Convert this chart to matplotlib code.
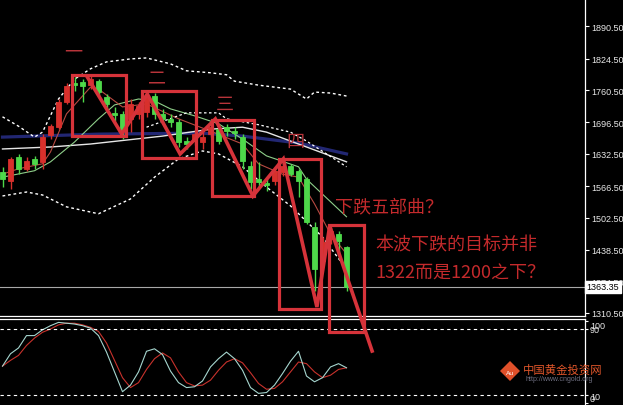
import matplotlib
matplotlib.use('Agg')
import matplotlib.pyplot as plt
from matplotlib.patches import Rectangle, Polygon

plt.rcParams['font.family'] = ['Noto Sans CJK SC', 'DejaVu Sans']

# ---- candles (oldest first) ----
opens = [1595.5, 1577.3, 1625.8, 1601.5, 1621.7, 1615.7, 1670.2, 1686.4, 1736.9, 1775.3,
         1777.4, 1771.3, 1779.4, 1747.0, 1714.7, 1712.7, 1702.6, 1712.7, 1716.7, 1749.1,
         1712.7, 1702.6, 1696.5, 1658.1, 1658.1, 1656.1, 1672.3, 1682.4, 1686.4, 1678.3,
         1666.2, 1607.6, 1581.3, 1573.2, 1577.3, 1595.5, 1607.6, 1597.5, 1581.3, 1484.3,
         1415.6, 1460.1, 1470.2, 1443.9]
highs = [1605.6, 1625.8, 1631.8, 1625.8, 1627.8, 1672.3, 1692.5, 1743.0, 1775.3, 1787.5,
         1783.4, 1791.5, 1783.4, 1753.1, 1726.8, 1718.7, 1743.0, 1736.9, 1757.1, 1755.1,
         1722.8, 1712.7, 1702.6, 1666.2, 1678.3, 1676.3, 1698.5, 1692.5, 1692.5, 1686.4,
         1672.3, 1617.7, 1615.7, 1581.3, 1605.6, 1615.7, 1611.6, 1601.5, 1585.4, 1494.4,
         1464.1, 1484.3, 1476.2, 1445.9]
lows = [1565.2, 1561.1, 1591.4, 1597.5, 1601.5, 1601.5, 1662.2, 1682.4, 1732.9, 1759.2,
        1736.9, 1763.2, 1749.1, 1722.8, 1698.5, 1662.2, 1676.3, 1702.6, 1706.6, 1702.6,
        1692.5, 1686.4, 1646.0, 1641.9, 1650.0, 1641.9, 1666.2, 1652.1, 1668.2, 1662.2,
        1601.5, 1561.1, 1565.2, 1557.1, 1569.2, 1587.4, 1587.4, 1544.9, 1490.4, 1355.0,
        1407.5, 1450.0, 1419.6, 1355.0]
closes = [1581.3, 1621.7, 1601.5, 1617.7, 1611.6, 1666.2, 1688.4, 1736.9, 1769.3, 1771.3,
          1769.3, 1783.4, 1757.1, 1732.9, 1710.7, 1678.3, 1732.9, 1728.8, 1749.1, 1712.7,
          1702.6, 1696.5, 1656.1, 1652.1, 1672.3, 1666.2, 1686.4, 1658.1, 1678.3, 1674.3,
          1617.7, 1575.3, 1575.3, 1569.2, 1597.5, 1607.6, 1591.4, 1577.3, 1494.4, 1399.4,
          1454.0, 1476.2, 1456.0, 1363.35]
last_price = 1363.35

# ---- moving averages / bands (bar index, price) ----
ma_fast_x = [0, 2, 5, 6, 8, 11, 12, 15, 18, 22, 26, 30, 32, 35, 37, 39, 41, 43]
ma_fast = [1591, 1602, 1612, 1636, 1713, 1767, 1763, 1727, 1733, 1703, 1678, 1652,
           1612, 1591, 1585, 1531, 1470, 1430]
ma_mid_x = [0, 4, 6, 9, 12, 14, 17, 19, 21, 24, 27, 30, 33, 37, 38, 43]
ma_mid = [1585, 1598, 1616, 1656, 1703, 1731, 1743, 1739, 1723, 1709, 1693, 1662,
          1628, 1606, 1581, 1505]
ma_slow_x = [0, 6, 11, 20, 26, 30, 33, 37, 43]
ma_slow = [1642, 1646, 1652, 1668, 1682, 1686, 1676, 1652, 1616]
ma_long_x = [0, 12, 25, 30, 37, 43]
ma_long = [1666, 1672, 1674, 1668, 1654, 1632]
band_up_x = [0, 2, 4, 5, 7, 9, 11, 13, 16, 18, 21, 23, 26, 28, 29, 32, 36, 38, 39, 41, 43]
band_up = [1707, 1688, 1666, 1676, 1743, 1783, 1804, 1818, 1824, 1826, 1814, 1800,
           1796, 1792, 1779, 1771, 1763, 1743, 1757, 1755, 1749]
band_in_x = [18, 23, 27, 28, 32, 36, 38, 43]
band_in = [1686, 1715, 1715, 1703, 1691, 1676, 1658, 1606]
band_lo_x = [0, 3, 5, 8, 12, 16, 19, 22, 25, 27, 30, 33, 36, 40, 43]
band_lo = [1547, 1555, 1549, 1525, 1511, 1541, 1585, 1622, 1638, 1632, 1606, 1565,
           1527, 1464, 1399]

# ---- stochastic ----
stoch_k = [45, 60, 67, 82, 82, 89, 94, 98, 97, 96, 94, 91, 82, 62, 38, 14, 22, 38, 63, 66,
           59, 39, 25, 19, 20, 27, 44, 54, 62, 54, 40, 19, 12, 13, 22, 36, 51, 63, 33, 26,
           31, 44, 48, 43]
stoch_d = [45, 52, 58, 70, 79, 86, 90, 95, 97, 97, 95, 92, 87, 73, 52, 31, 19, 25, 41, 54,
           61, 55, 38, 25, 21, 22, 28, 40, 50, 54, 49, 37, 24, 17, 18, 26, 38, 50, 48, 38,
           31, 34, 41, 43]

# ---- hand drawn annotations ----
box_left = [8.7, 17.4, 26.2, 34.6, 40.8]
box_right = [15.4, 24.2, 31.4, 39.8, 45.2]
box_top = [1791.5, 1759.2, 1700.6, 1621.7, 1488.3]
box_bottom = [1668.2, 1623.8, 1547.0, 1318.6, 1272.1]
zig_x = [10.6, 14.9, 18.1, 22.2, 26.6, 31.3, 35.1, 39.3, 40.9, 46.2]
zig_y = [1787.5, 1672.3, 1753.1, 1631.8, 1702.6, 1547.0, 1621.7, 1322.6, 1486.3, 1233.6]
wave_labels = ['一', '二', '三', '四']
wave_x = [8.8, 19.3, 27.8, 36.6]
wave_y = [1838, 1787, 1733, 1658]
notes = ['下跌五部曲？', '本波下跌的目标并非', '1322而是1200之下？']
notes_x = [41.6, 46.6, 46.6]
notes_y = [1527, 1450, 1393]

price_ticks = [1310.5, 1374.5, 1438.5, 1502.5, 1566.5, 1632.5, 1696.5, 1760.5, 1824.5, 1890.5]

W, H = 623, 406
fig = plt.figure(figsize=(W / 100, H / 100), dpi=100, facecolor='black')
ax2 = fig.add_axes([0, 0, 585 / W, 1 - 320 / H], facecolor='black')
ax = fig.add_axes([0, 1 - 317 / H, 585 / W, 317 / H])
ax.set_zorder(3)
ax.patch.set_alpha(0)

RED = '#d8302c'
GREEN = '#4ed84a'
ANN = '#d6333a'
xlim = (-0.3125, 72.81)

n = len(opens)
xs = list(range(n))
for i in xs:
    up = closes[i] >= opens[i]
    col = RED if up else GREEN
    ax.vlines(i, lows[i], highs[i], color=col, lw=1.0, zorder=4)
    lo, hi = min(opens[i], closes[i]), max(opens[i], closes[i])
    ax.bar(i, hi - lo, bottom=lo, width=0.7, color=col, edgecolor=col, lw=0.6, zorder=5)

dash = (0, (2.0, 2.0))
ax.plot(ma_long_x, ma_long, color='#262c80', lw=2.3, alpha=0.9, zorder=2)
ax.plot(ma_slow_x, ma_slow, color='#e6e6e6', lw=1.0, zorder=3)
ax.plot(ma_mid_x, ma_mid, color='#8fcf8a', lw=0.8, zorder=3)
ax.plot(ma_fast_x, ma_fast, color='#b84a42', lw=0.8, zorder=3)
ax.plot(band_up_x, band_up, color='white', lw=1.0, ls=dash, zorder=3)
ax.plot(band_in_x, band_in, color='white', lw=0.9, ls=dash, zorder=3)
ax.plot(band_lo_x, band_lo, color='white', lw=1.0, ls=dash, zorder=3)

ax.axhline(last_price, color='#a8a8a8', lw=0.8, zorder=2)

# annotations
for l, r, t, b in zip(box_left, box_right, box_top, box_bottom):
    ax.add_patch(Rectangle((l, b), r - l, t - b, fill=False, ec=ANN, lw=2.3,
                           zorder=8, clip_on=False))
ax.plot(zig_x, zig_y, color=ANN, lw=2.6, zorder=9, clip_on=False,
        solid_joinstyle='miter')
for s, x, y in zip(wave_labels, wave_x, wave_y):
    ax.text(x, y, s, color='#b8343a', fontsize=13, ha='center', va='center', zorder=7)
for s, x, y in zip(notes, notes_x, notes_y):
    ax.text(x, y, s, color='#c42a2c', fontsize=13, ha='left', va='center', zorder=10,
            clip_on=False)

ax.set_xlim(*xlim)
ax.set_ylim(1304.4, 1945.1)
ax.set_xticks([])
ax.yaxis.tick_right()
ax.set_yticks(price_ticks)
ax.set_yticklabels(['%.2f' % v for v in price_ticks], family='Liberation Sans',
                   fontsize=6.5, color='#e8e8e8')
ax.tick_params(axis='y', length=3, width=0.8, color='white', pad=1.5)
for side in ['left', 'top']:
    ax.spines[side].set_visible(False)
for side in ['right', 'bottom']:
    ax.spines[side].set_color('white')
    ax.spines[side].set_linewidth(0.9)

ax.text(1.003, last_price, '%.2f' % last_price, transform=ax.get_yaxis_transform(),
        family='Liberation Sans', fontsize=6.5, color='black', va='center', ha='left',
        clip_on=False, zorder=20,
        bbox=dict(boxstyle='square,pad=0.15', fc='white', ec='white'))

# stochastic panel
ax2.plot(xs, stoch_d, color='#c8322c', lw=0.8)
ax2.plot(xs, stoch_k, color='#a6d6cf', lw=0.8)
ax2.axhline(90, color='white', lw=0.8, ls=(0, (3, 3)))
ax2.axhline(10, color='white', lw=0.8, ls=(0, (3, 3)))
ax2.set_xlim(*xlim)
ax2.set_ylim(-2.1, 102.1)
ax2.set_xticks([])
ax2.yaxis.tick_right()
ax2.set_yticks([0, 10, 90, 100])
labs = ax2.set_yticklabels(['0', '10', '90', '100'], family='Liberation Sans',
                           fontsize=6.5, color='#e8e8e8')
labs[0].set_va('bottom')
labs[3].set_va('top')
ax2.tick_params(axis='y', length=2, width=0.8, color='white', pad=1.5)
for side in ['left', 'bottom']:
    ax2.spines[side].set_visible(False)
for side in ['right', 'top']:
    ax2.spines[side].set_color('white')
    ax2.spines[side].set_linewidth(0.9)

# watermark
cx, cy = 510 / W, 1 - 372 / H
dx, dy = 10 / W, 10 / H
fig.patches.append(Polygon([(cx, cy + dy), (cx + dx, cy), (cx, cy - dy), (cx - dx, cy)],
                           closed=True, fc='#e0502a', ec='none', transform=fig.transFigure,
                           zorder=30))
fig.text(cx, cy - 2 / H, 'Au', color='white', fontsize=4.5, ha='center', va='center',
         family='DejaVu Sans', zorder=31)
fig.text(523 / W, 1 - 370 / H, '中国黄金投资网', color='#e0562a', fontsize=8.2,
         ha='left', va='center', zorder=31)
fig.text(525 / W, 1 - 380 / H, 'http://www.cngold.org', color='#6f6f80', fontsize=5,
         family='Liberation Sans', ha='left', va='center', zorder=31)

fig.savefig('out.png', dpi=100, facecolor='black')
